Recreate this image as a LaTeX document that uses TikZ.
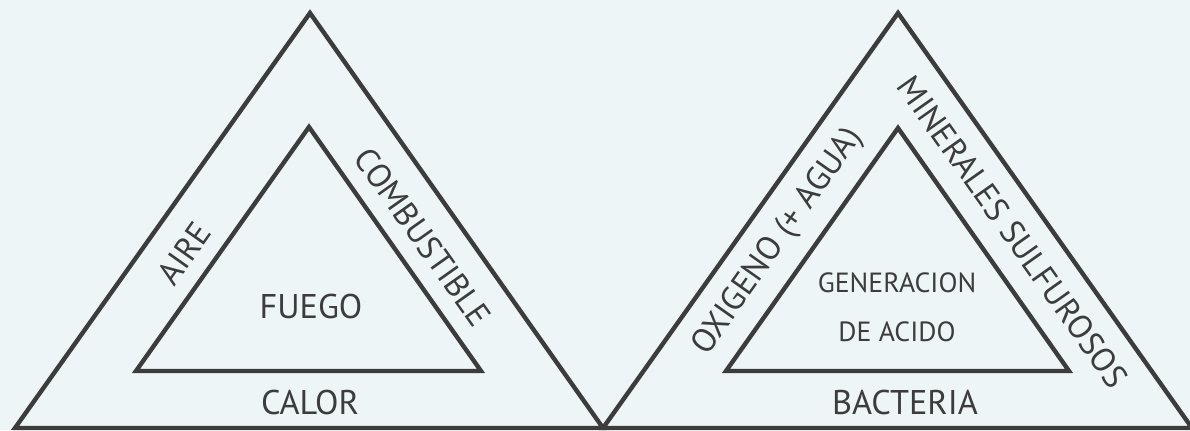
\documentclass[tikz,border=0pt]{standalone}
\usepackage{fontspec}
\setmainfont{PT Sans}
\definecolor{paper}{RGB}{237,245,247}
\definecolor{ink}{RGB}{60,60,60}
\tikzset{
  tri/.style={draw=ink, line width=2.5pt, line join=miter},
  lbl/.style={text=ink, font=\fontsize{19.5}{24}\selectfont, inner sep=0pt},
  side/.style={lbl, font=\fontsize{19}{24}\selectfont},
  core/.style={lbl, font=\fontsize{15.8}{28}\selectfont, align=center},
}

\begin{document}
\begin{tikzpicture}[x=0.02cm, y=-0.02cm]
  \fill[paper] (0,0) rectangle (1190,430);
  \useasboundingbox (0,0) rectangle (1190,430);
  % triangulo del fuego
  \coordinate (FA) at (15,428);
  \coordinate (FB) at (310,13);
  \coordinate (FC) at (603,428);
  \coordinate (fa) at (136,371);
  \coordinate (fb) at (309,127);
  \coordinate (fc) at (481,371);
  \draw[tri] (FA) -- (FB) -- (FC) -- cycle;
  \draw[tri] (fa) -- (fb) -- (fc) -- cycle;
  % triangulo de la generacion de acido
  \coordinate (GA) at (603,428);
  \coordinate (GB) at (898,13);
  \coordinate (GC) at (1192,428);
  \coordinate (ga) at (726,371);
  \coordinate (gb) at (898,128);
  \coordinate (gc) at (1069,371);
  \draw[tri] (GA) -- (GB) -- (GC) -- cycle;
  \draw[tri] (ga) -- (gb) -- (gc) -- cycle;
  % textos
  \node[lbl] (fuego) at (311,307) {FUEGO};
  \node[lbl] (calor) at (310,403) {CALOR};
  \node[side, rotate=54.7] (aire) at (184,253) {AIRE};
  \node[side, rotate=-54.7] (combustible) at (423,237) {COMBUSTIBLE};
  \node[core] (acido) at (897,307) {GENERACION\\DE ACIDO};
  \node[lbl] (bacteria) at (905,403) {BACTERIA};
  \node[side, rotate=54.7] (oxigeno) at (778,242) {OXIGENO (+ AGUA)};
  \node[side, rotate=-54.7] (minerales) at (1013,232) {MINERALES SULFUROSOS};
\end{tikzpicture}
\end{document}
